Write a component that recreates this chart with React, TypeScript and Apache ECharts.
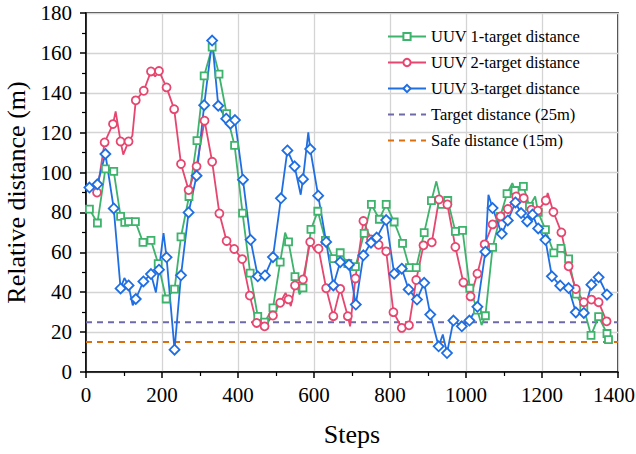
import React, { useEffect, useRef } from "react";
import * as echarts from "echarts";

const FONT = "Liberation Serif";

const seriesNames = [
  "UUV 1-target distance",
  "UUV 2-target distance",
  "UUV 3-target distance",
  "Target distance (25m)",
  "Safe distance (15m)",
];

const xTicks = { min: 0, max: 1400, interval: 200 };
const yTicks = { min: 0, max: 180, interval: 20 };

const targetDistance = 25;
const safeDistance = 15;

// UUV 1 (marked points)
const uuv1Steps = [9, 30, 51, 73, 91, 102, 112, 130, 150, 171, 190, 211, 233, 250, 271, 292, 311, 332, 350, 370, 391, 412, 432, 452, 470, 492, 511, 533, 550, 571, 592, 610, 630, 651, 669, 689, 709, 732, 751, 772, 790, 811, 833, 851, 869, 890, 909, 936, 952, 972, 991, 1010, 1030, 1051, 1070, 1090, 1108, 1129, 1151, 1167, 1190, 1209, 1231, 1250, 1270, 1290, 1310, 1329, 1349, 1371, 1375];
const uuv1Values = [81.7, 74.7, 101.8, 100.6, 78, 75, 75.4, 75.4, 65, 66, 54.3, 36.6, 41.6, 67.8, 88, 116, 148.5, 162.9, 149.4, 129.5, 113.6, 79.7, 49.6, 27.9, 25, 32.2, 55.1, 65.2, 47.8, 42.2, 71.5, 80.6, 66, 56.8, 59.8, 54.4, 52.8, 69.5, 84, 76.6, 84, 75.2, 64.5, 52.3, 52.3, 69.9, 85.9, 84, 86, 70.5, 71, 42, 31, 28.2, 62.5, 78, 89.4, 91, 93.1, 83, 80, 71.4, 59.7, 62, 56.7, 39, 32, 18.4, 27.8, 19.3, 16.2];
// UUV 1 (intermediate vertices without marker)
const uuv1KinkSteps = [524, 562, 922, 1041, 1122, 1182];
const uuv1KinkValues = [69.9, 38.9, 95.6, 23.5, 94.7, 88];

// UUV 2
const uuv2Steps = [29, 49, 71, 91, 112, 131, 152, 171, 192, 212, 232, 250, 270, 291, 312, 332, 351, 370, 390, 411, 431, 449, 470, 492, 511, 533, 550, 571, 590, 612, 632, 651, 669, 689, 709, 730, 750, 770, 790, 809, 831, 850, 869, 888, 910, 929, 951, 972, 993, 1012, 1030, 1049, 1070, 1091, 1110, 1132, 1152, 1172, 1189, 1210, 1230, 1251, 1270, 1289, 1310, 1330, 1349, 1370];
const uuv2Values = [90, 115.1, 124.3, 115.6, 115.6, 136.2, 141, 150.7, 150.9, 142.7, 131.8, 104.3, 91.2, 103.1, 126, 105.4, 79.5, 65.7, 61.7, 56.6, 38.3, 24.6, 22.9, 28.3, 34.7, 36.4, 43.4, 46.4, 65.2, 61.8, 42, 28, 41.7, 28, 46.9, 75.7, 66.5, 63.8, 60.5, 30, 22.1, 23.4, 46.1, 63.5, 65, 86.5, 84, 62.7, 44.9, 37.9, 49.3, 64, 74, 78, 81.7, 88, 87.2, 81.4, 80.9, 86, 80.2, 70, 53, 41.6, 35, 36.3, 35, 25.4];
const uuv2KinkSteps = [78, 98, 122, 182, 525, 539, 601, 695, 1215];
const uuv2KinkValues = [130.7, 109, 118.5, 148.2, 39.7, 33, 61.1, 22.9, 89.7];

// UUV 3
const uuv3Steps = [9, 30, 51, 73, 91, 112, 131, 151, 171, 192, 212, 233, 250, 270, 291, 311, 332, 348, 369, 380, 392, 413, 433, 452, 471, 492, 513, 530, 549, 571, 590, 611, 632, 651, 669, 692, 710, 730, 750, 765, 790, 811, 831, 849, 871, 890, 906, 928, 950, 967, 989, 1009, 1030, 1051, 1070, 1094, 1110, 1130, 1145, 1161, 1175, 1190, 1209, 1226, 1248, 1270, 1289, 1310, 1330, 1349, 1371];
const uuv3Values = [92.5, 94.1, 109.3, 82, 41.9, 43.4, 36.6, 45.4, 49.1, 51.3, 57.5, 11.2, 48.5, 80, 98.4, 133.8, 166.2, 133.5, 127, 124.5, 126.3, 96.4, 66.3, 48, 48.4, 57.6, 87.1, 111.1, 103.1, 96.7, 111.8, 88.4, 65.2, 43.4, 55.1, 53.8, 33.8, 58.5, 64.8, 67.4, 76.2, 49.3, 51.8, 41.4, 36.3, 44.7, 28.8, 12.9, 9.5, 25.8, 22.9, 25.8, 32.7, 60.3, 82.2, 69.3, 76, 85, 79.7, 75.5, 78.9, 72, 66.3, 48, 43.3, 42.1, 29.9, 29.6, 43.8, 47.5, 38.8];
const uuv3KinkSteps = [101, 123, 184, 204, 565, 585, 939, 1059];
const uuv3KinkValues = [47.1, 33.4, 39.9, 69.7, 88.9, 120.1, 18.8, 88.9];

const COLORS = ["#3db36b", "#e6466f", "#1f6fe3", "#6e6aa8", "#d9700d"];

function buildPoints(steps: number[], vals: number[], kSteps: number[], kVals: number[]) {
  const pts: any[] = steps.map((s, i) => ({ value: [s, vals[i]] }));
  kSteps.forEach((s, i) => pts.push({ value: [s, kVals[i]], symbol: "none" }));
  pts.sort((a, b) => a.value[0] - b.value[0]);
  return pts;
}

export default function App() {
  const ref = useRef<HTMLDivElement>(null);
  useEffect(() => {
    if (!ref.current) return;
    const chart = echarts.init(ref.current, undefined, { renderer: "svg" });
    const richLabels = {
      t: { fontFamily: FONT, fontSize: 21, color: "#000" },
      e: { fontFamily: FONT, fontSize: 21, color: "#000", padding: [0, 8, 0, 0] },
    };
    const axisCommon = {
      type: "value" as const,
      nameLocation: "middle" as const,
      nameTextStyle: { fontFamily: FONT, fontSize: 26, color: "#000" },
      axisLine: { show: true, onZero: false, lineStyle: { color: "#000", width: 1.5 } },
      axisTick: { show: true, length: 6, lineStyle: { color: "#000", width: 1.5 } },
      minorTick: { show: true, splitNumber: 2, length: 4, lineStyle: { color: "#000", width: 1.2 } },
      splitLine: { show: true, lineStyle: { color: "#d4d4d4", width: 1.3 } },
    };
    const lineSeries = (name: string, color: string, symbol: string, size: number, data: any[]) => ({
      name,
      type: "line",
      data,
      symbol,
      symbolSize: size,
      showAllSymbol: true,
      lineStyle: { color, width: 1.8 },
      itemStyle: { color: "#fff", borderColor: color, borderWidth: 1.8 },
      z: 3,
    });
    const dashSeries = (name: string, color: string, v: number) => ({
      name,
      type: "line",
      data: [
        [xTicks.min, v],
        [xTicks.max, v],
      ],
      symbol: "none",
      lineStyle: { color, width: 2, type: [6, 5] },
      itemStyle: { color },
      z: 2,
    });
    chart.setOption({
      animation: false,
      textStyle: { fontFamily: FONT },
      grid: {
        left: 86,
        right: 18,
        top: 13,
        bottom: 82,
        show: true,
        borderColor: "#000",
        borderWidth: 1.5,
        containLabel: false,
        outerBoundsMode: "none",
      },
      legend: {
        orient: "vertical",
        left: 387,
        top: 28,
        padding: 0,
        itemWidth: 38,
        itemHeight: 9,
        itemGap: 9,
        textStyle: { fontFamily: FONT, fontSize: 16.5, color: "#000" },
        data: [
          { name: seriesNames[0] },
          { name: seriesNames[1] },
          { name: seriesNames[2] },
          { name: seriesNames[3], itemStyle: { opacity: 0 } },
          { name: seriesNames[4], itemStyle: { opacity: 0 } },
        ],
      },
      xAxis: {
        ...axisCommon,
        min: xTicks.min,
        max: xTicks.max,
        interval: xTicks.interval,
        name: "Steps",
        nameGap: 49,
        axisLabel: {
          fontFamily: FONT,
          fontSize: 21,
          color: "#000",
          margin: 12,
          formatter: (v: number) => (v === xTicks.max ? "{e|" + String(v) + "}" : "{t|" + String(v) + "}"),
          rich: richLabels,
        },
      },
      yAxis: {
        ...axisCommon,
        min: yTicks.min,
        max: yTicks.max,
        interval: yTicks.interval,
        name: "Relative distance (m)",
        nameGap: 51,
        axisLabel: {
          fontFamily: FONT,
          fontSize: 21,
          color: "#000",
          margin: 14,
          formatter: (v: number) => "{t|" + String(v) + "}",
          rich: richLabels,
        },
      },
      series: [
        dashSeries(seriesNames[3], COLORS[3], targetDistance),
        dashSeries(seriesNames[4], COLORS[4], safeDistance),
        lineSeries(seriesNames[0], COLORS[0], "rect", 7, buildPoints(uuv1Steps, uuv1Values, uuv1KinkSteps, uuv1KinkValues)),
        lineSeries(seriesNames[1], COLORS[1], "circle", 8, buildPoints(uuv2Steps, uuv2Values, uuv2KinkSteps, uuv2KinkValues)),
        lineSeries(seriesNames[2], COLORS[2], "diamond", 10, buildPoints(uuv3Steps, uuv3Values, uuv3KinkSteps, uuv3KinkValues)),
      ],
    });
    return () => chart.dispose();
  }, []);
  return <div ref={ref} style={{ position: "absolute", left: 0, top: 0, width: 636, height: 454 }} />;
}
